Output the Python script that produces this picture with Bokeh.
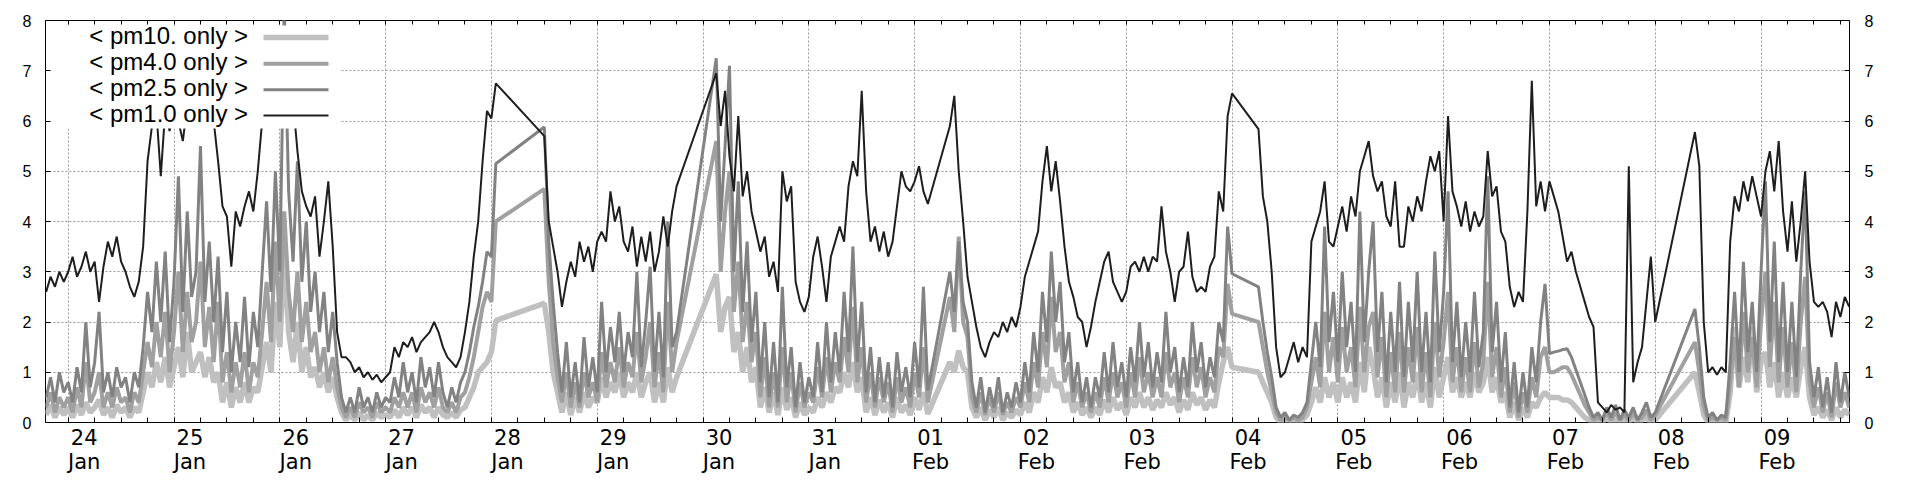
import numpy as np
from bokeh.plotting import figure
from bokeh.models import FixedTicker, LinearAxis, Range1d, BoxAnnotation, Label
from bokeh.embed import file_html
from bokeh.resources import INLINE

# ---------------- data ----------------
DAY_LABELS = ["24\nJan", "25\nJan", "26\nJan", "27\nJan", "28\nJan", "29\nJan",
              "30\nJan", "31\nJan", "01\nFeb", "02\nFeb", "03\nFeb", "04\nFeb",
              "05\nFeb", "06\nFeb", "07\nFeb", "08\nFeb", "09\nFeb"]
Y_TICKS = [0, 1, 2, 3, 4, 5, 6, 7, 8]

# hourly samples; hours counted from 24 Jan 00:00, one list per continuous run
SEG_START_HOURS = [-5, 108, 147, 200, 270, 369]

PM1_ONLY = [
    [2.6, 2.9, 2.7, 3.0, 2.8,
     3.0, 3.3, 2.9, 3.1, 3.4, 3.0, 3.2,
     2.4, 3.1, 3.6, 3.3, 3.7, 3.2,
     3.0, 2.7, 2.5, 2.8,
     3.5, 5.2, 5.9, 6.2, 4.9, 6.2,
     5.8, 6.3, 6.0, 5.6, 6.3, 6.1,
     6.4, 6.3, 6.2, 6.4, 6.0, 5.2,
     4.3, 4.1, 3.1, 4.2, 3.9, 4.3,
     4.6, 4.2, 5.0, 6.0,
     6.4, 6.2, 6.5, 6.3, 6.6, 6.2,
     6.4, 5.4, 4.6, 4.3, 4.1, 4.5,
     3.3, 4.0, 4.8, 3.5, 1.8, 1.3, 1.3,
     1.2, 1.0, 1.1, 0.9, 1.0, 0.85, 0.95, 0.8, 0.9,
     1.0, 1.5, 1.3, 1.6, 1.5, 1.7, 1.4, 1.6, 1.7, 1.8, 2.0, 1.8, 1.5,
     1.3, 1.2, 1.1, 1.3,
     1.8, 2.4, 3.3, 4.0, 5.2, 6.2, 6.05, 6.75],
    [5.7, 4.0, 3.5, 3.0, 2.3, 2.8, 3.2, 2.9, 3.6, 3.2, 3.5, 3.0, 3.6, 3.8, 3.6, 4.6,
     4.0, 4.3, 3.6, 3.4, 3.9, 3.1, 3.7, 3.2, 3.8, 3.0, 3.4, 4.1, 3.5, 4.2, 4.7],
    [6.95, 5.9, 6.6, 5.3, 4.6, 6.1, 4.5, 5.0, 4.2, 3.8,
     3.4, 3.7, 2.9, 3.2, 2.6, 5.0, 4.4, 4.7, 2.8, 2.4, 2.2, 2.5,
     3.3, 3.7, 3.1, 2.4, 3.3, 3.6, 3.9, 3.6, 4.7, 5.2, 4.9, 6.6,
     4.6, 3.6, 3.9, 3.4, 3.8, 3.3, 3.6, 4.3, 5.0, 4.7, 4.6, 4.8, 5.1, 4.6, 4.35],
    [5.9, 6.5, 5.0, 4.0, 2.9,
     2.4, 1.9, 1.5, 1.3, 1.6, 1.8, 1.7, 2.0, 1.8, 2.1, 1.9, 2.3,
     2.9, 3.2, 3.5, 3.8, 4.8, 5.5, 4.6, 5.2,
     4.4, 3.5, 2.8, 2.5, 2.1, 2.0, 1.5, 1.9,
     2.4, 2.8, 3.2, 3.4, 2.8, 2.6, 2.4, 2.6, 3.1, 3.2, 3.0, 3.3, 3.0, 3.3, 3.2,
     4.3, 3.4, 3.0, 2.4, 3.0, 3.1, 3.8, 2.9, 2.6, 2.7, 2.6, 3.1, 3.3, 4.6, 4.2,
     6.1, 6.55],
    [5.84, 4.5, 4.0, 3.0, 1.5,
     0.9, 1.0, 1.3, 1.6, 1.2, 1.5, 1.3,
     3.6, 3.9, 4.2, 4.8, 3.6, 3.5, 3.9, 4.3, 3.8,
     4.5, 4.1, 5.0, 5.3, 5.6, 4.9, 4.6, 4.8, 4.1, 3.9, 4.8, 3.5, 3.5, 4.3, 4.0,
     4.5, 4.2, 4.8, 5.3, 5.0, 5.4, 4.0,
     6.1, 4.6, 4.3, 3.9, 4.4, 3.8, 4.2, 3.9, 4.1, 5.4, 4.5, 4.7, 3.8, 3.6,
     2.7, 2.3, 2.6, 2.4, 4.2, 6.8, 4.3, 4.8, 4.2, 4.8,
     4.5, 4.2, 3.7, 3.2, 3.4, 3.0, 2.7, 2.4, 2.1, 1.9,
     0.4, 0.3, 0.2, 0.35, 0.25, 0.3, 0.2, 5.1, 0.8, 1.2, 1.5, 2.4, 3.3, 2.0],
    [5.78, 5.1, 2.0, 1.0, 1.1, 0.95, 1.1, 1.0,
     3.6, 4.5, 4.2, 4.8, 4.4, 4.9, 4.5, 4.1, 5.0, 5.4, 4.6, 5.6, 4.2, 3.4, 4.4,
     3.2, 4.0, 5.0, 3.2,
     2.4, 2.3, 2.4, 2.2, 1.7, 2.4, 2.1, 2.5, 2.3],
]

PM25_ONLY = [
    [0.5, 0.9, 0.4, 1.0, 0.6,
     0.8, 0.4, 1.1, 0.6, 2.0, 0.7, 1.2,
     2.2, 0.6, 1.0, 0.5, 1.1, 0.7,
     0.9, 0.4, 1.0, 0.7,
     1.5, 2.6, 1.8, 3.2, 2.0, 3.4,
     1.6, 2.8, 4.9, 2.2, 4.2, 2.5,
     3.0, 5.5, 2.4, 3.6, 2.0, 3.3,
     1.4, 2.6, 1.0, 2.0, 1.2, 2.5,
     1.1, 2.2, 1.5, 3.0,
     4.4, 2.6, 5.0, 3.0, 8.3, 4.6,
     3.2, 5.2, 2.8, 4.0, 2.2, 3.0,
     1.8, 2.6, 1.4, 2.2, 1.2, 0.5, 0.2,
     0.5, 0.2, 0.7, 0.3, 0.5, 0.2, 0.6, 0.3, 0.5,
     0.4, 0.9, 0.5, 1.2, 0.6, 1.0, 0.4, 1.3, 0.7, 1.1, 0.5, 1.2, 0.6,
     0.3, 0.7, 0.4, 0.8,
     1.0, 1.4, 1.9, 2.3, 2.8, 3.4, 3.3, 5.15],
    [5.88, 3.6, 2.4, 1.4, 0.6, 1.6, 0.5, 1.2, 0.4, 1.7, 0.7, 1.3, 0.6, 2.4, 1.0, 1.9,
     1.2, 2.2, 1.0, 1.8, 1.3, 3.0, 1.1, 2.0, 3.1, 1.0, 2.2, 0.9, 4.0, 1.5, 1.8],
    [7.25, 4.0, 5.5, 7.1, 3.0, 4.8, 2.2, 3.6, 1.6, 2.6,
     0.8, 2.0, 0.5, 1.6, 0.4, 2.7, 0.7, 1.5, 0.3, 1.2, 0.4, 0.9,
     0.5, 1.6, 0.6, 2.0, 0.8, 1.8, 1.0, 2.6, 1.4, 3.5, 1.2, 2.4,
     0.6, 1.5, 0.4, 1.3, 0.5, 1.2, 0.3, 1.4, 0.6, 1.1, 0.5, 1.6, 0.7, 2.7, 0.64],
    [3.0, 2.2, 3.6, 2.4, 2.0,
     0.8, 0.3, 0.9, 0.2, 0.7, 0.3, 0.9, 0.2, 0.6, 0.3, 0.8, 0.4,
     1.2, 0.6, 1.8, 1.0, 2.6, 1.6, 3.4, 2.0,
     2.8, 1.2, 1.8, 0.6, 1.2, 0.4, 0.9, 0.3,
     0.9, 0.5, 1.4, 0.6, 1.6, 0.7, 1.2, 0.5, 1.5, 0.8, 2.0, 0.9, 1.6, 0.7, 1.4,
     0.8, 2.2, 1.0, 1.5, 0.6, 1.3, 0.7, 2.0, 1.0, 1.6, 0.7, 1.3, 0.9, 2.0, 1.6,
     3.9, 2.96],
    [2.7, 2.0, 1.4, 0.9, 0.3,
     0.1, 0.2, 0.05, 0.15, 0.1, 0.2, 0.4,
     1.2, 2.0, 1.1, 3.9, 1.6, 2.6, 1.2, 3.0, 1.5,
     2.4, 1.0, 4.2, 1.6, 3.0, 4.0, 1.4, 2.6, 0.8, 2.2, 1.0, 2.8, 0.9, 2.4, 1.2,
     3.0, 1.0, 2.2, 0.8, 3.4, 1.4, 2.6,
     4.6, 1.2, 2.4, 0.9, 2.0, 1.0, 2.6, 1.1, 1.8, 4.9, 1.4, 2.4, 0.8, 1.8,
     0.3, 1.2, 0.2, 1.0, 0.3, 1.5, 0.8, 2.0, 2.76, 1.37,
     1.4, 1.42, 1.45, 1.47, 1.3, 1.05, 0.8, 0.55, 0.3, 0.1,
     0.2, 0.05, 0.3, 0.1, 0.35, 0.05, 0.25, 0.1, 0.3, 0.05, 0.2, 0.4, 0.1, 0.2],
    [2.26, 1.5, 0.5, 0.1, 0.2, 0.05, 0.15, 0.1,
     1.2, 2.6, 1.0, 3.2, 1.4, 2.4, 1.0, 3.0, 4.8, 1.6, 3.6, 1.2, 2.8, 1.0, 2.4,
     0.9, 3.0, 4.6, 1.2,
     0.5, 1.1, 0.3, 0.9, 0.2, 1.2, 0.4, 1.0, 0.5],
]

PM4_ONLY = [
    [0.3, 0.6, 0.2, 0.5, 0.3,
     0.5, 0.2, 0.7, 0.3, 1.2, 0.4, 0.6,
     1.0, 0.3, 0.6, 0.3, 0.7, 0.4,
     0.5, 0.2, 0.6, 0.4,
     1.0, 1.6, 1.1, 2.0, 1.3, 2.2,
     1.0, 1.8, 3.0, 1.4, 2.6, 1.6,
     2.0, 3.2, 1.5, 2.3, 1.2, 2.4,
     0.8, 1.4, 0.6, 1.2, 0.7, 1.4,
     0.6, 1.2, 0.9, 1.8,
     2.8, 1.6, 3.6, 2.0, 4.2, 2.6,
     1.8, 3.0, 1.6, 2.4, 1.4, 1.8,
     1.0, 1.5, 0.8, 1.3, 0.7, 0.3, 0.1,
     0.3, 0.1, 0.4, 0.2, 0.3, 0.1, 0.4, 0.2, 0.3,
     0.2, 0.5, 0.3, 0.6, 0.3, 0.6, 0.2, 0.7, 0.4, 0.6, 0.3, 0.7, 0.3,
     0.2, 0.4, 0.2, 0.5,
     0.6, 0.9, 1.3, 1.8, 2.3, 2.6, 2.4, 4.0],
    [4.65, 2.8, 1.6, 0.9, 0.4, 1.0, 0.3, 0.8, 0.3, 1.0, 0.5, 0.8, 0.4, 1.4, 0.7, 1.2,
     0.8, 1.5, 0.7, 1.2, 0.9, 1.8, 0.8, 1.3, 2.0, 0.7, 1.4, 0.6, 2.4, 1.0, 1.6],
    [5.6, 3.0, 4.2, 5.0, 2.2, 3.2, 1.6, 2.4, 1.2, 1.8,
     0.5, 1.3, 0.3, 1.0, 0.3, 1.5, 0.4, 1.0, 0.2, 0.8, 0.3, 0.6,
     0.4, 1.1, 0.5, 1.3, 0.6, 1.2, 0.8, 1.7, 1.0, 2.3, 0.8, 1.5,
     0.4, 1.0, 0.3, 0.9, 0.4, 0.8, 0.2, 0.9, 0.4, 0.7, 0.3, 1.0, 0.5, 1.5, 0.4],
    [2.5, 1.8, 3.7, 2.0, 1.7,
     0.5, 0.2, 0.6, 0.15, 0.5, 0.2, 0.6, 0.15, 0.4, 0.2, 0.5, 0.3,
     0.8, 0.4, 1.2, 0.7, 1.8, 1.1, 2.5, 1.4,
     1.8, 0.8, 1.2, 0.4, 0.8, 0.3, 0.6, 0.2,
     0.6, 0.3, 0.9, 0.4, 1.0, 0.5, 0.8, 0.3, 1.0, 0.5, 1.3, 0.6, 1.0, 0.5, 0.9,
     0.5, 1.4, 0.7, 1.0, 0.4, 0.9, 0.5, 1.3, 0.7, 1.1, 0.5, 0.9, 0.6, 1.5, 1.3,
     2.76, 2.16],
    [2.0, 1.5, 1.0, 0.6, 0.2,
     0.05, 0.1, 0.05, 0.1, 0.05, 0.1, 0.3,
     0.8, 1.3, 0.7, 2.2, 1.0, 1.7, 0.8, 1.9, 1.0,
     1.5, 0.7, 2.3, 1.0, 1.9, 2.2, 0.9, 1.7, 0.5, 1.4, 0.6, 1.8, 0.6, 1.5, 0.8,
     1.9, 0.6, 1.4, 0.5, 2.0, 0.9, 1.6,
     2.6, 0.8, 1.5, 0.6, 1.3, 0.6, 1.6, 0.7, 1.2, 2.8, 0.9, 1.5, 0.5, 1.1,
     0.2, 0.8, 0.1, 0.6, 0.2, 0.9, 0.5, 1.3, 1.5, 1.0,
     1.0, 1.05, 1.1, 1.1, 0.95, 0.75, 0.55, 0.35, 0.2, 0.05,
     0.1, 0.05, 0.2, 0.05, 0.2, 0.05, 0.15, 0.05, 0.2, 0.05, 0.1, 0.25, 0.05, 0.15],
    [1.6, 1.0, 0.3, 0.05, 0.1, 0.05, 0.1, 0.05,
     0.8, 1.7, 0.7, 2.2, 1.0, 1.7, 0.7, 2.0, 3.0, 1.1, 2.4, 0.8, 1.9, 0.7, 1.6,
     0.6, 2.0, 2.9, 0.8,
     0.3, 0.7, 0.2, 0.6, 0.1, 0.8, 0.3, 0.6, 0.3],
]

PM10_ONLY = [
    [0.15, 0.35, 0.1, 0.3, 0.15,
     0.3, 0.1, 0.35, 0.15, 0.4, 0.2, 0.3,
     0.45, 0.15, 0.3, 0.1, 0.35, 0.2,
     0.3, 0.1, 0.3, 0.2,
     0.6, 1.0, 0.7, 1.2, 0.8, 1.3,
     0.7, 1.1, 1.5, 0.9, 1.8, 1.0,
     1.2, 1.4, 0.9, 1.3, 0.8, 1.0,
     0.4, 0.8, 0.3, 0.7, 0.4, 0.8,
     0.4, 0.7, 0.6, 1.1,
     1.6, 1.0, 2.4, 1.5, 3.4, 1.8,
     1.2, 2.0, 1.0, 1.5, 0.9, 1.1,
     0.7, 1.0, 0.6, 0.9, 0.5, 0.2, 0.05,
     0.15, 0.05, 0.2, 0.05, 0.15, 0.05, 0.2, 0.1, 0.15,
     0.1, 0.25, 0.1, 0.3, 0.15, 0.3, 0.1, 0.35, 0.2, 0.3, 0.1, 0.3, 0.15,
     0.1, 0.2, 0.1, 0.25,
     0.3, 0.5, 0.7, 1.0, 1.1, 1.2, 1.4, 2.03],
    [2.37, 1.8, 1.0, 0.6, 0.2, 0.6, 0.15, 0.5, 0.2, 0.6, 0.3, 0.5, 0.4, 0.9, 0.5, 0.8,
     0.6, 1.0, 0.5, 0.8, 0.6, 1.0, 0.5, 0.8, 1.0, 0.4, 0.8, 0.4, 1.1, 0.6, 0.9],
    [2.95, 1.8, 2.3, 2.5, 1.4, 1.8, 1.0, 1.5, 0.8, 1.1,
     0.3, 0.7, 0.2, 0.6, 0.15, 0.7, 0.25, 0.5, 0.1, 0.4, 0.15, 0.3,
     0.2, 0.5, 0.3, 0.6, 0.4, 0.7, 0.6, 1.0, 0.7, 1.2, 0.6, 0.9,
     0.2, 0.5, 0.15, 0.45, 0.2, 0.4, 0.1, 0.5, 0.2, 0.35, 0.15, 0.5, 0.25, 0.6, 0.17],
    [1.2, 1.0, 1.43, 1.1, 1.0,
     0.3, 0.1, 0.3, 0.05, 0.25, 0.1, 0.3, 0.05, 0.2, 0.1, 0.25, 0.15,
     0.4, 0.2, 0.6, 0.4, 0.9, 0.6, 1.1, 0.7,
     0.8, 0.4, 0.6, 0.2, 0.4, 0.15, 0.3, 0.1,
     0.3, 0.15, 0.45, 0.2, 0.5, 0.25, 0.4, 0.15, 0.5, 0.3, 0.6, 0.3, 0.5, 0.25, 0.45,
     0.3, 0.6, 0.35, 0.5, 0.2, 0.45, 0.25, 0.6, 0.35, 0.5, 0.25, 0.45, 0.3, 0.8, 1.2,
     1.5, 1.1],
    [1.0, 0.8, 0.6, 0.4, 0.1,
     0.0, 0.05, 0.0, 0.05, 0.0, 0.05, 0.15,
     0.4, 0.7, 0.4, 0.9, 0.5, 0.8, 0.4, 0.9, 0.5,
     0.8, 0.4, 1.2, 0.6, 1.5, 1.1, 0.5, 0.9, 0.3, 0.8, 0.4, 1.0, 0.3, 0.8, 0.5,
     1.0, 0.4, 0.8, 0.3, 1.1, 0.5, 0.9,
     1.3, 0.6, 0.9, 0.5, 0.8, 0.5, 1.0, 0.6, 0.8, 1.3, 0.6, 0.9, 0.4, 0.6,
     0.1, 0.4, 0.05, 0.3, 0.1, 0.4, 0.3, 0.5, 0.6, 0.5,
     0.5, 0.5, 0.45, 0.45, 0.4, 0.3, 0.2, 0.1, 0.05, 0.0,
     0.05, 0.0, 0.1, 0.0, 0.05, 0.0, 0.05, 0.0, 0.1, 0.0, 0.05, 0.1, 0.0, 0.05],
    [1.0, 0.6, 0.15, 0.0, 0.05, 0.0, 0.05, 0.0,
     0.6, 1.9, 0.7, 1.3, 0.8, 1.9, 0.6, 1.2, 1.4, 0.7, 1.2, 0.5, 1.0, 0.5, 0.9,
     0.5, 1.1, 1.5, 0.5,
     0.15, 0.3, 0.1, 0.25, 0.05, 0.3, 0.1, 0.25, 0.15],
]

SERIES_NAMES = ["< pm10. only >", "< pm4.0 only >", "< pm2.5 only >", "< pm1.0 only >"]


def flatten(segs):
    days, vals = [], []
    for start, seg in zip(SEG_START_HOURS, segs):
        for i, v in enumerate(seg):
            days.append((start + i) / 24.0)
            vals.append(v)
    return np.array(days), np.array(vals)


# ---------------- style ----------------
COLORS = ["#c0c0c0", "#a0a0a0", "#828282", "#1e1e1e"]
WIDTHS = [5.5, 4.0, 3.0, 2.0]

X0, X1 = -0.2146, 16.836
p = figure(width=1920, height=480, output_backend="svg", toolbar_location=None,
           x_range=Range1d(X0, X1), y_range=Range1d(0, 8),
           min_border_left=45, min_border_right=71, min_border_top=20, min_border_bottom=58,
           background_fill_color="white", border_fill_color="white")
p.outline_line_color = "black"
p.outline_line_width = 1

n_days = len(DAY_LABELS)
day_pos = [float(d) for d in range(n_days)]
quarter_pos = [d / 4.0 for d in range(-1, 4 * n_days + 4) if X0 < d / 4.0 < X1]
LABEL_SHIFT = 0.151  # labels start at their day tick
label_pos = [d + LABEL_SHIFT for d in day_pos]

# bottom axis: labels + tick marks
xb = p.below[0]
xb.ticker = FixedTicker(ticks=label_pos, minor_ticks=quarter_pos)
xb.major_label_overrides = {pos: lab for pos, lab in zip(label_pos, DAY_LABELS)}
xb.major_tick_in = 0
xb.major_tick_out = 0
xb.minor_tick_in = 5
xb.minor_tick_out = 0
xb.minor_tick_line_color = "black"
xb.axis_line_color = None
xb.major_label_text_font = "DejaVu Sans"
xb.major_label_text_font_size = "21px"
xb.major_label_text_line_height = 1.0
xb.major_label_text_color = "black"
xb.major_label_standoff = 3

# top axis: tick marks only (no labels)
xt = LinearAxis(ticker=FixedTicker(ticks=[], minor_ticks=quarter_pos),
                minor_tick_in=4, minor_tick_out=0, major_tick_in=0, major_tick_out=0,
                axis_line_color=None)
p.add_layout(xt, "above")

# left / right axes
yl = p.left[0]
yr = LinearAxis()
p.add_layout(yr, "right")
for ax, standoff in ((yl, 14), (yr, 15)):
    ax.ticker = FixedTicker(ticks=Y_TICKS, minor_ticks=[])
    ax.major_tick_in = 5
    ax.major_tick_out = 0
    ax.axis_line_color = None
    ax.major_label_text_font = "Liberation Sans"
    ax.major_label_text_font_size = "16px"
    ax.major_label_text_color = "black"
    ax.major_label_standoff = standoff

# grid
p.xgrid.ticker = FixedTicker(ticks=day_pos)
p.ygrid.ticker = FixedTicker(ticks=Y_TICKS)
p.grid.grid_line_color = "#9a9a9a"
p.grid.grid_line_dash = "2 2"
p.grid.grid_line_width = 1

# series
for segs, color, width in zip([PM10_ONLY, PM4_ONLY, PM25_ONLY, PM1_ONLY], COLORS, WIDTHS):
    x, y = flatten(segs)
    p.line(x, y, line_color=color, line_width=width)

# legend (gnuplot style: text then sample, on an opaque box)
p.add_layout(BoxAnnotation(left=-0.165, right=2.575, bottom=5.85, top=7.9,
                           fill_color="white", fill_alpha=1.0, line_color=None))
LEG_Y = [7.70, 7.18, 6.66, 6.15]
for name, color, width, ly in zip(SERIES_NAMES, COLORS, WIDTHS, LEG_Y):
    p.add_layout(Label(x=1.70, y=ly, text=name, text_align="right", text_baseline="middle",
                       text_font="Liberation Sans", text_font_size="24px", text_color="black"))
    half = width / 2.0 / 50.25
    p.add_layout(BoxAnnotation(left=1.846, right=2.46, bottom=ly - 0.04 - half, top=ly - 0.04 + half,
                               fill_color=color, fill_alpha=1.0, line_color=None))

open("out.html", "w").write(file_html(p, INLINE))
